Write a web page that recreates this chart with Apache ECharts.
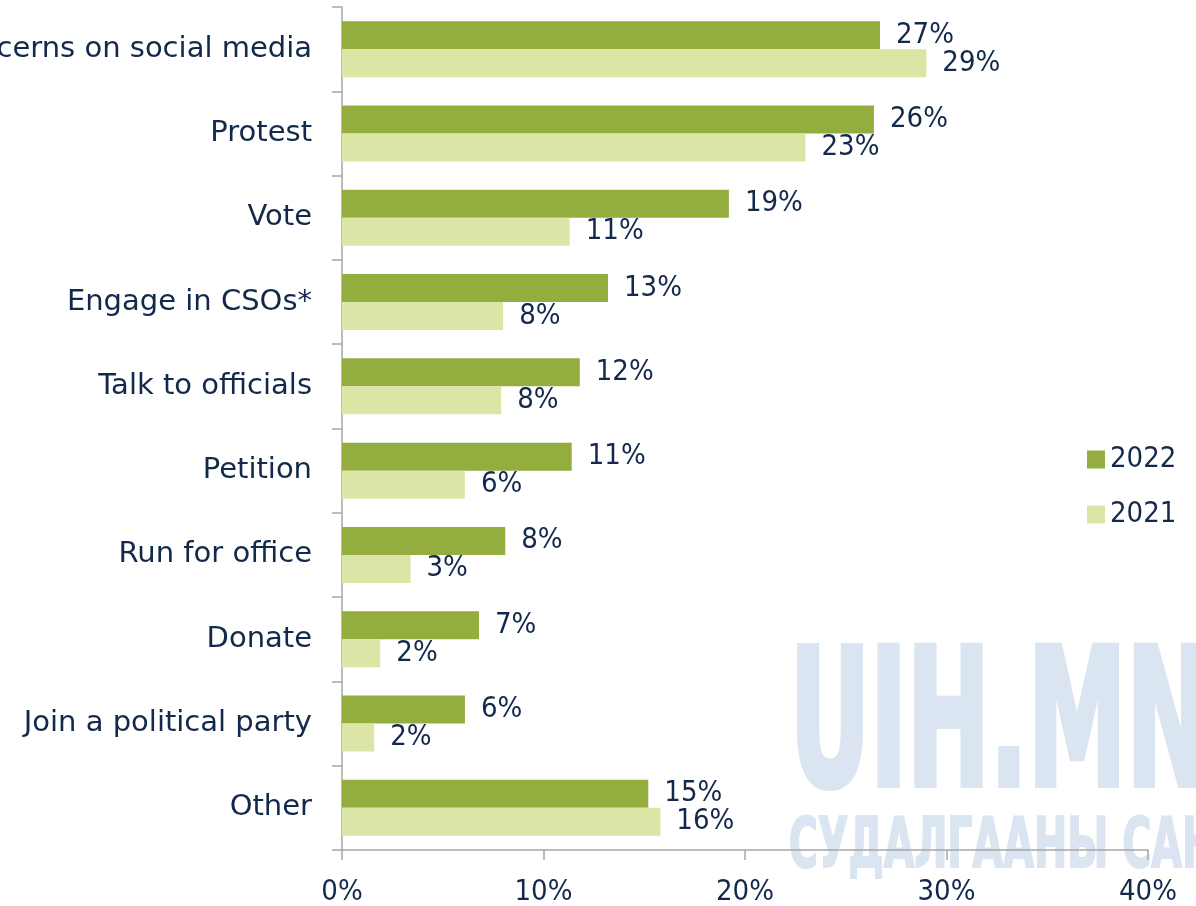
<!DOCTYPE html>
<html>
<head>
<meta charset="utf-8">
<style>
  html, body { margin: 0; padding: 0; background: #ffffff; }
  #chart { width: 1196px; height: 906px; }
</style>
<script src="https://cdn.jsdelivr.net/npm/echarts@6/dist/echarts.min.js"></script>
</head>
<body>
<div id="chart"></div>
<script>
const categories = [
  "Express concerns on social media",
  "Protest",
  "Vote",
  "Engage in CSOs*",
  "Talk to officials",
  "Petition",
  "Run for office",
  "Donate",
  "Join a political party",
  "Other"
];
const values2022 = [26.7, 26.4, 19.2, 13.2, 11.8, 11.4, 8.1, 6.8, 6.1, 15.2];
const values2021 = [29.0, 23.0, 11.3, 8.0, 7.9, 6.1, 3.4, 1.9, 1.6, 15.8];
const xTicks = [0, 10, 20, 30, 40];

const textColor = '#13294b';
const axisColor = '#a6a6a6';
const font = '"DejaVu Sans Condensed", "DejaVu Sans", sans-serif';
const catFont = '"DejaVu Sans", sans-serif';

const chart = echarts.init(document.getElementById('chart'), null, { renderer: 'canvas' });

const labelCfg = {
  show: true,
  position: 'right',
  distance: 16,
  color: textColor,
  fontFamily: font,
  fontSize: 29,
  formatter: p => Math.round(p.value) + '%'
};

chart.setOption({
  animation: false,
  backgroundColor: '#ffffff',
  graphic: [
    {
      type: 'text', z: -10, silent: true,
      left: 788, top: 638,
      scaleX: 0.58,
      style: {
        text: 'UIH.MN',
        fill: '#dbe5f1',
        stroke: '#dbe5f1',
        lineWidth: 6,
        font: 'bold 190px "DejaVu Sans Condensed", "DejaVu Sans", sans-serif'
      }
    },
    {
      type: 'text', z: -10, silent: true,
      left: 788, top: 813,
      scaleX: 0.63,
      style: {
        text: 'СУДАЛГААНЫ САН',
        fill: '#dbe5f1',
        stroke: '#dbe5f1',
        lineWidth: 2,
        font: 'bold 70px "DejaVu Sans Condensed", "DejaVu Sans", sans-serif'
      }
    }
  ],
  legend: {
    orient: 'vertical',
    left: 1082,
    top: 440,
    itemWidth: 18,
    itemHeight: 18,
    itemGap: 26,
    icon: 'rect',
    data: ['2022', '2021'],
    textStyle: { color: textColor, fontFamily: font, fontSize: 29 }
  },
  grid: { left: 342, right: 48, top: 7, bottom: 56, containLabel: false, outerBoundsMode: 'none' },
  xAxis: {
    type: 'value',
    min: xTicks[0],
    max: xTicks[xTicks.length - 1],
    interval: 10,
    axisLine: { show: true, lineStyle: { color: axisColor, width: 1.5 } },
    axisTick: { show: true, length: 10, lineStyle: { color: axisColor, width: 1.5 } },
    splitLine: { show: false },
    axisLabel: {
      color: textColor, fontFamily: font, fontSize: 29, margin: 28,
      formatter: v => v + '%'
    }
  },
  yAxis: {
    type: 'category',
    inverse: true,
    data: categories,
    axisLine: { show: true, lineStyle: { color: axisColor, width: 1.5 } },
    axisTick: { show: true, length: 10, lineStyle: { color: axisColor, width: 1.5 } },
    axisLabel: { color: textColor, fontFamily: catFont, fontSize: 29, margin: 30 }
  },
  series: [
    {
      name: '2022', type: 'bar', data: values2022,
      barWidth: 28, barGap: '0%',
      itemStyle: { color: '#93ad3e' },
      label: labelCfg, z: 3
    },
    {
      name: '2021', type: 'bar', data: values2021,
      barWidth: 28, barGap: '0%',
      itemStyle: { color: '#dbe6a6' },
      label: labelCfg, z: 3
    }
  ]
});
</script>
</body>
</html>
